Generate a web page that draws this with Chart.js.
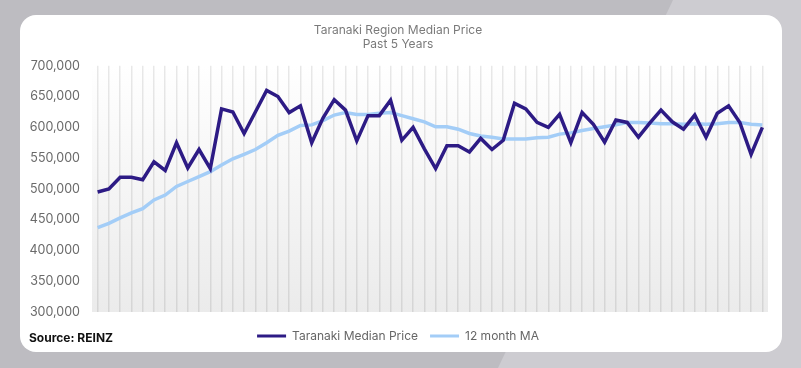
<!DOCTYPE html>
<html>
<head>
<meta charset="utf-8">
<script src="https://cdn.jsdelivr.net/npm/chart.js@4"></script>
<style>
  html, body { margin: 0; padding: 0; }
  body { width: 801px; height: 368px; position: relative; overflow: hidden; background: #bdbcc1; font-family: Inter, sans-serif; }
  .light { position: absolute; inset: 0; background: #cdccd1; clip-path: polygon(673px 0, 801px 0, 801px 368px, 498px 368px); }
  .card { position: absolute; left: 20px; top: 15px; width: 762px; height: 337px; background: #fff; border-radius: 16px; }
  #priceChart { position: absolute; left: 0; top: 0; }
  .source { position: absolute; left: 9px; top: 315px; font-size: 12px; font-weight: 700; color: #111; }
</style>
</head>
<body>
<div class="light"></div>
<div class="card">
  <canvas id="priceChart" width="762" height="337"></canvas>
  <div class="source">Source: REINZ</div>
</div>
<script>
const months = [
  'Jan-19','Feb-19','Mar-19','Apr-19','May-19','Jun-19','Jul-19','Aug-19','Sep-19','Oct-19','Nov-19','Dec-19',
  'Jan-20','Feb-20','Mar-20','Apr-20','May-20','Jun-20','Jul-20','Aug-20','Sep-20','Oct-20','Nov-20','Dec-20',
  'Jan-21','Feb-21','Mar-21','Apr-21','May-21','Jun-21','Jul-21','Aug-21','Sep-21','Oct-21','Nov-21','Dec-21',
  'Jan-22','Feb-22','Mar-22','Apr-22','May-22','Jun-22','Jul-22','Aug-22','Sep-22','Oct-22','Nov-22','Dec-22',
  'Jan-23','Feb-23','Mar-23','Apr-23','May-23','Jun-23','Jul-23','Aug-23','Sep-23','Oct-23','Nov-23','Dec-23'
];

const medianPrice = [
  495000, 500000, 519000, 519000, 515000, 544000, 530000, 575000, 534000, 564000,
  533000, 630000, 625000, 590000, 625000, 660000, 650000, 624000, 635000, 575000,
  615000, 645000, 628000, 578000, 619000, 619000, 644000, 579000, 600000, 565000,
  533000, 570000, 570000, 560000, 582000, 564000, 579000, 639000, 630000, 608000,
  600000, 621000, 575000, 624000, 605000, 576000, 612000, 608000, 584000, 607000,
  628000, 609000, 597000, 620000, 584000, 623000, 635000, 608000, 556000, 600000
];

const movingAvg = [
  437000, 444000, 453000, 461000, 468000, 482000, 490000, 504000, 512000, 520000,
  528000, 539000, 549000, 556000, 564000, 575000, 587000, 594000, 603000, 604000,
  611000, 620000, 624000, 621000, 621000, 623000, 624000, 619000, 614000, 609000,
  601000, 601000, 597000, 590000, 586000, 584000, 581000, 581000, 581000, 583000,
  584000, 589000, 591000, 595000, 598000, 601000, 604000, 608000, 608000, 607000,
  606000, 606000, 605000, 606000, 605000, 606000, 608000, 608000, 605000, 604000
];

const yMin = 300000;
const yMax = 700000;
const yStep = 50000;

// soft grey fade behind the plot
const areaFill = {
  id: 'areaFill',
  beforeDraw(chart) {
    const { ctx, chartArea: a } = chart;
    const g = ctx.createLinearGradient(0, a.top, 0, a.bottom);
    g.addColorStop(0, '#ffffff');
    g.addColorStop(1, '#ebebeb');
    ctx.save();
    ctx.fillStyle = g;
    ctx.fillRect(a.left, a.top, a.right - a.left, a.bottom - a.top);
    ctx.restore();
  }
};

const ctx = document.getElementById('priceChart').getContext('2d');
new Chart(ctx, {
  type: 'line',
  data: {
    labels: months,
    datasets: [
      {
        label: 'Taranaki Median Price',
        data: medianPrice,
        borderColor: '#2d1b85',
        backgroundColor: '#2d1b85',
        borderWidth: 3.5,
        pointRadius: 0,
        tension: 0
      },
      {
        label: '12 month MA',
        data: movingAvg,
        borderColor: '#a3cdf7',
        backgroundColor: '#a3cdf7',
        borderWidth: 3.5,
        pointRadius: 0,
        tension: 0
      }
    ]
  },
  options: {
    responsive: false,
    devicePixelRatio: 1,
    animation: false,
    layout: { padding: { left: 8, right: 14, top: 0, bottom: 0 } },
    plugins: {
      title: {
        display: true,
        text: ['Taranaki Region Median Price', 'Past 5 Years'],
        color: '#7a7a7a',
        font: { family: 'Inter', size: 12, weight: 'normal' },
        padding: { top: 8, bottom: 14 }
      },
      legend: {
        position: 'bottom',
        labels: {
          boxWidth: 29,
          boxHeight: 3,
          padding: 12,
          color: '#666',
          font: { family: 'Inter', size: 12 },
          generateLabels(chart) {
            return Chart.defaults.plugins.legend.labels.generateLabels(chart)
              .map(l => ({ ...l, lineWidth: 0, fillStyle: l.strokeStyle }));
          }
        }
      },
      tooltip: { enabled: false }
    },
    scales: {
      x: {
        offset: true,
        grid: { offset: false, color: 'rgba(0,0,0,0.09)', lineWidth: 1.5, drawTicks: false },
        border: { display: false },
        ticks: { display: false },
        afterFit(scale) { scale.height = 6; }
      },
      y: {
        min: yMin,
        max: yMax,
        grid: { display: false, drawTicks: false },
        border: { display: false },
        afterFit(scale) { scale.width = 64; },
        ticks: {
          stepSize: yStep,
          padding: 12,
          color: '#6a6a6a',
          font: { family: 'Inter', size: 12.5 },
          callback: v => v.toLocaleString('en-US')
        }
      }
    }
  },
  plugins: [areaFill]
});
</script>
</body>
</html>
